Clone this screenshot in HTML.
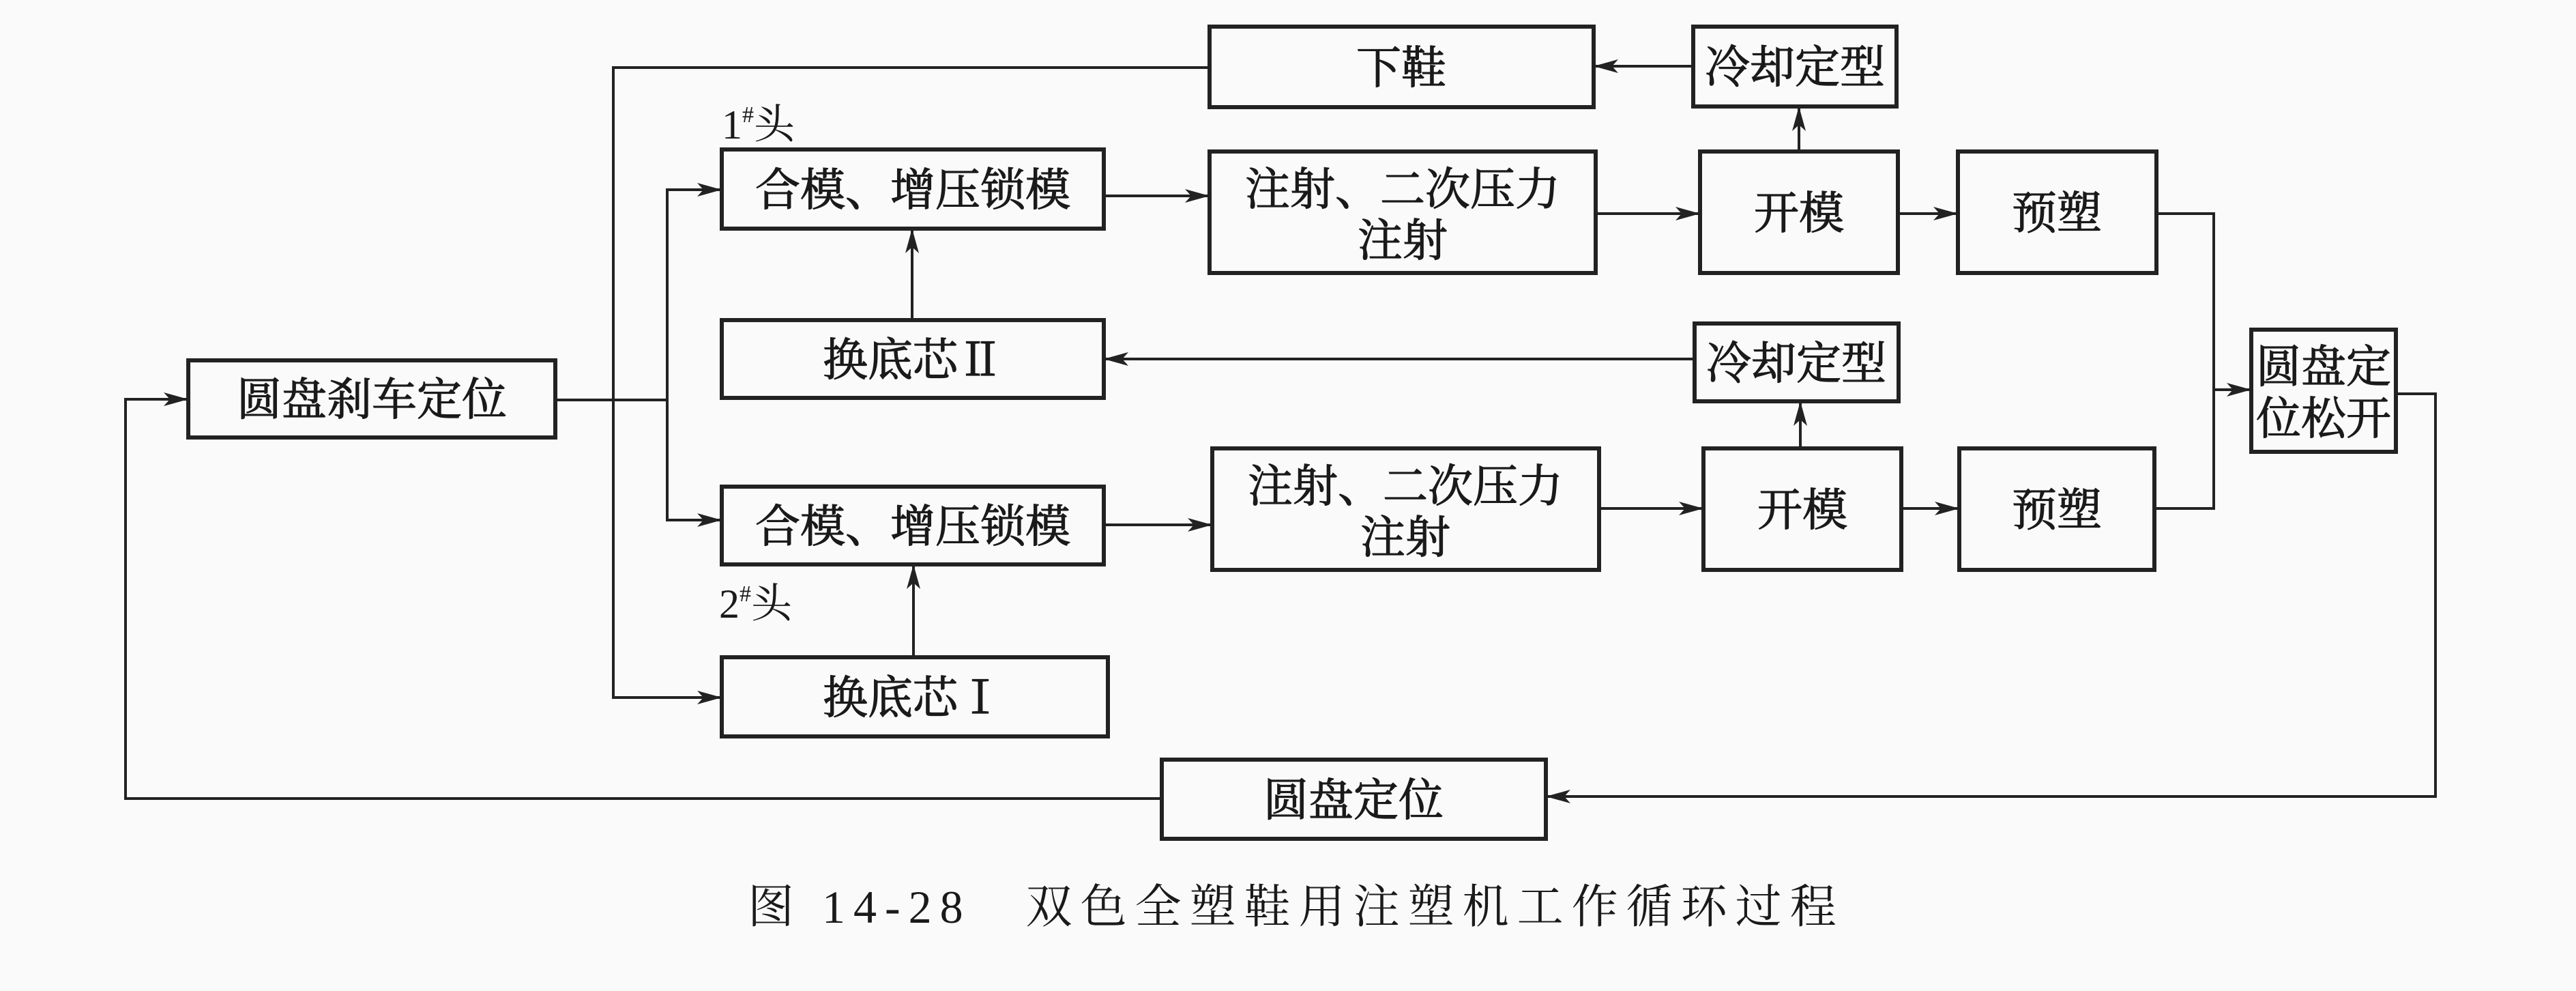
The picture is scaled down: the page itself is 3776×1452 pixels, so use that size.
<!DOCTYPE html>
<html><head><meta charset="utf-8"><style>
html,body{margin:0;padding:0;background:#fafafa;}
svg{display:block;}
text{font-family:"Liberation Serif","Noto Serif CJK SC","Noto Sans CJK SC",serif;fill:#1a1a1a;}
</style></head><body>
<svg width="3776" height="1452" viewBox="0 0 3776 1452" xmlns="http://www.w3.org/2000/svg">
<defs>
<marker id="b" markerWidth="36" markerHeight="24" refX="34" refY="12" orient="auto" markerUnits="userSpaceOnUse"><path d="M0,2 L36,12 L0,22 L9,12z" fill="#222"/></marker></defs>
<g fill="none" stroke="#222" stroke-width="6">
<rect x="276" y="528" width="538" height="113"/>
<rect x="1773" y="39" width="563" height="118"/>
<rect x="2482" y="39" width="298" height="117"/>
<rect x="1058" y="219" width="560" height="116"/>
<rect x="1773" y="222" width="566" height="178"/>
<rect x="2492" y="222" width="290" height="178"/>
<rect x="2870" y="222" width="291" height="178"/>
<rect x="1058" y="469" width="560" height="114"/>
<rect x="2484" y="474" width="299" height="114"/>
<rect x="1058" y="713" width="560" height="114"/>
<rect x="1777" y="657" width="567" height="178"/>
<rect x="2497" y="657" width="290" height="178"/>
<rect x="2872" y="657" width="286" height="178"/>
<rect x="1058" y="963" width="566" height="116"/>
<rect x="1703" y="1113" width="563" height="116"/>
<rect x="3300" y="483" width="212" height="179"/>
</g>
<g fill="none" stroke="#222" stroke-width="4" marker-end="url(#b)">
<path d="M1773,99 L899,99 L899,1022 L1056,1022"/>
<path d="M814,586 L978,586 L978,278 L1056,278"/>
<path d="M978,586 L978,762 L1056,762"/>
<path d="M1618,287 L1771,287"/>
<path d="M1618,769 L1775,769"/>
<path d="M2339,313 L2490,313"/>
<path d="M2344,745 L2495,745"/>
<path d="M2782,313 L2868,313"/>
<path d="M2787,745 L2870,745"/>
<path d="M2637,222 L2637,158"/>
<path d="M2639,657 L2639,590"/>
<path d="M2482,97 L2338,97"/>
<path d="M2484,526 L1620,526"/>
<path d="M1337,469 L1337,337"/>
<path d="M1339,963 L1339,829"/>
<path d="M3245,571 L3298,571"/>
<path d="M3512,577 L3570,577 L3570,1167 L2268,1167"/>
<path d="M1703,1170 L184,1170 L184,585 L274,585"/>
</g>
<path d="M3161,313 L3245,313 L3245,745 L3158,745" fill="none" stroke="#222" stroke-width="4"/>
<g font-size="66" text-anchor="middle" stroke="#1a1a1a" stroke-width="1.2">
<text x="545" y="608">圆盘刹车定位</text>
<text x="2054" y="122">下鞋</text>
<text x="2631" y="121">冷却定型</text>
<text x="1338" y="301">合模、增压锁模</text>
<text x="2056" y="300">注射、二次压力</text>
<text x="2056" y="375">注射</text>
<text x="2637" y="335">开模</text>
<text x="3015" y="335">预塑</text>
<text x="1338" y="550">换底芯Ⅱ</text>
<text x="2633" y="555">冷却定型</text>
<text x="1338" y="794">合模、增压锁模</text>
<text x="2060" y="735">注射、二次压力</text>
<text x="2060" y="810">注射</text>
<text x="2642" y="770">开模</text>
<text x="3015" y="770">预塑</text>
<text x="1338" y="1045">换底芯Ⅰ</text>
<text x="1984" y="1195">圆盘定位</text>
<text x="3406" y="560">圆盘定</text>
<text x="3406" y="636">位松开</text>
</g>
<text x="1058" y="203" font-size="60">1<tspan font-size="34" dy="-24">#</tspan><tspan dy="24">头</tspan></text>
<text x="1054" y="905" font-size="60">2<tspan font-size="34" dy="-24">#</tspan><tspan dy="24">头</tspan></text>
<text x="1096" y="1352" font-size="68" letter-spacing="12">图 14-28　双色全塑鞋用注塑机工作循环过程</text>
</svg>
</body></html>
